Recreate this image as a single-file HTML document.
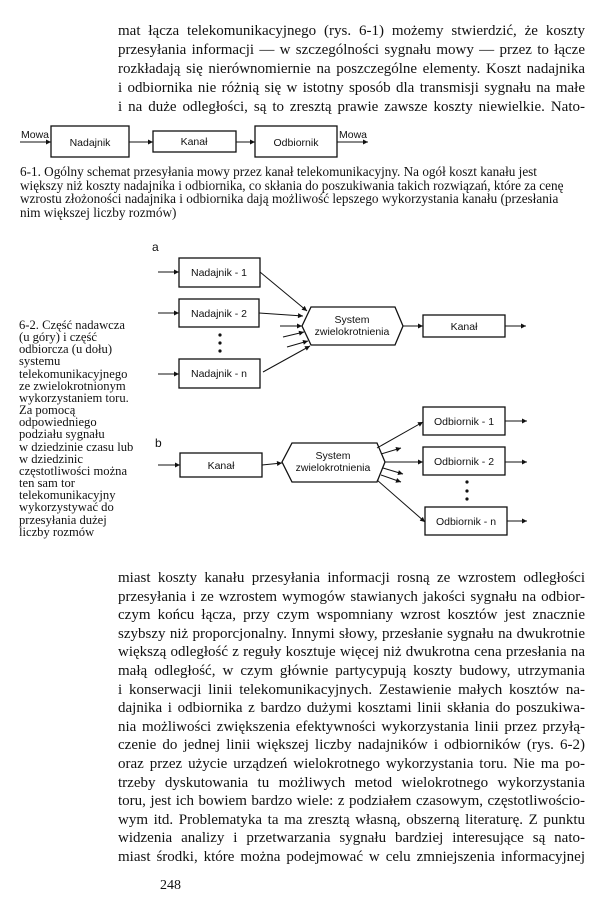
<!DOCTYPE html>
<html><head><meta charset="utf-8"><style>
body{margin:0;width:600px;height:916px;background:#fff;position:relative;overflow:hidden;font-family:"Liberation Serif",serif;color:#111}
.t{position:absolute;left:118px;width:467px;font-size:15px;line-height:19px}
.t div{text-align:justify;text-align-last:justify;white-space:nowrap}
.b{position:absolute;left:118px;width:467px;font-size:15px;line-height:18.6px}
.b div{text-align:justify;text-align-last:justify;white-space:nowrap}
.c1{position:absolute;left:20px;top:165px;font-size:13.2px;line-height:13.6px;white-space:nowrap}
.c2{position:absolute;left:19px;top:319px;font-size:12.6px;line-height:12.15px;white-space:nowrap}
svg{position:absolute;left:0;top:0}
svg text{font-family:"Liberation Sans",sans-serif;font-size:10.5px;fill:#111}
</style></head><body>
<div class="t" style="top:22px">
<div>mat łącza telekomunikacyjnego (rys. 6-1) możemy stwierdzić, że koszty</div>
<div>przesyłania informacji — w szczególności sygnału mowy — przez to łącze</div>
<div>rozkładają się nierównomiernie na poszczególne elementy. Koszt nadajnika</div>
<div>i odbiornika nie różnią się w istotny sposób dla transmisji sygnału na małe</div>
<div>i na duże odległości, są to zresztą prawie zawsze koszty niewielkie. Nato-</div>
</div>
<div class="c1">6-1. Ogólny schemat przesyłania mowy przez kanał telekomunikacyjny. Na ogół koszt kanału jest<br>większy niż koszty nadajnika i odbiornika, co skłania do poszukiwania takich rozwiązań, które za cenę<br>wzrostu złożoności nadajnika i odbiornika dają możliwość lepszego wykorzystania kanału (przesłania<br>nim większej liczby rozmów)</div>
<div class="c2">6-2. Część nadawcza<br>(u góry) i część<br>odbiorcza (u dołu)<br>systemu<br>telekomunikacyjnego<br>ze zwielokrotnionym<br>wykorzystaniem toru.<br>Za pomocą<br>odpowiedniego<br>podziału sygnału<br>w dziedzinie czasu lub<br>w dziedzinic<br>częstotliwości można<br>ten sam tor<br>telekomunikacyjny<br>wykorzystywać do<br>przesyłania dużej<br>liczby rozmów</div>
<div class="b" style="top:569px">
<div>miast koszty kanału przesyłania informacji rosną ze wzrostem odległości</div>
<div>przesyłania i ze wzrostem wymogów stawianych jakości sygnału na odbior-</div>
<div>czym końcu łącza, przy czym wspomniany wzrost kosztów jest znacznie</div>
<div>szybszy niż proporcjonalny. Innymi słowy, przesłanie sygnału na dwukrotnie</div>
<div>większą odległość z reguły kosztuje więcej niż dwukrotna cena przesłania na</div>
<div>małą odległość, w czym głównie partycypują koszty budowy, utrzymania</div>
<div>i konserwacji linii telekomunikacyjnych. Zestawienie małych kosztów na-</div>
<div>dajnika i odbiornika z bardzo dużymi kosztami linii skłania do poszukiwa-</div>
<div>nia możliwości zwiększenia efektywności wykorzystania linii przez przyłą-</div>
<div>czenie do jednej linii większej liczby nadajników i odbiorników (rys. 6-2)</div>
<div>oraz przez użycie urządzeń wielokrotnego wykorzystania toru. Nie ma po-</div>
<div>trzeby dyskutowania tu możliwych metod wielokrotnego wykorzystania</div>
<div>toru, jest ich bowiem bardzo wiele: z podziałem czasowym, częstotliwościo-</div>
<div>wym itd. Problematyka ta ma zresztą własną, obszerną literaturę. Z punktu</div>
<div>widzenia analizy i przetwarzania sygnału bardziej interesujące są nato-</div>
<div>miast środki, które można podejmować w celu zmniejszenia informacyjnej</div>
</div>
<div style="position:absolute;left:160px;top:878px;font-size:14px">248</div>

<svg width="600" height="916" viewBox="0 0 600 916">
<defs><marker id="a" viewBox="0 0 10 10" refX="10" refY="5" markerWidth="7" markerHeight="5" orient="auto" markerUnits="userSpaceOnUse"><path d="M0,0L10,5L0,10z" fill="#111"/></marker></defs>
<g stroke="#111" stroke-width="1.3" fill="none">
<rect x="51" y="126" width="78" height="31"/>
<rect x="153" y="131" width="83" height="21"/>
<rect x="255" y="126" width="82" height="31"/>
<g marker-end="url(#a)" stroke-width="1">
<line x1="20" y1="142" x2="51" y2="142"/>
<line x1="129" y1="142" x2="153" y2="142"/>
<line x1="236" y1="142" x2="255" y2="142"/>
<line x1="337" y1="142" x2="368" y2="142"/>
</g>
<rect x="179" y="258" width="81" height="29"/>
<rect x="179" y="299" width="80" height="28"/>
<rect x="179" y="359" width="81" height="29"/>
<polygon points="302,326 311,307 395,307 403,326 395,345 311,345"/>
<rect x="423" y="315" width="82" height="22"/>
<g marker-end="url(#a)" stroke-width="1">
<line x1="158" y1="272" x2="179" y2="272"/>
<line x1="158" y1="313" x2="179" y2="313"/>
<line x1="158" y1="374" x2="179" y2="374"/>
<line x1="260" y1="272" x2="307" y2="311"/>
<line x1="259" y1="313" x2="303" y2="316"/>
<line x1="280" y1="326" x2="302" y2="326"/>
<line x1="283" y1="337" x2="304" y2="332"/>
<line x1="287" y1="347" x2="308" y2="341"/>
<line x1="263" y1="372" x2="310" y2="346"/>
<line x1="403" y1="326" x2="423" y2="326"/>
<line x1="505" y1="326" x2="526" y2="326"/>
</g>
<rect x="180" y="453" width="82" height="24"/>
<polygon points="282,462 292,443 377,443 385,462 377,482 292,482"/>
<rect x="423" y="407" width="82" height="28"/>
<rect x="423" y="447" width="82" height="28"/>
<rect x="425" y="507" width="82" height="28"/>
<g marker-end="url(#a)" stroke-width="1">
<line x1="158" y1="465" x2="180" y2="465"/>
<line x1="262" y1="465" x2="282" y2="463"/>
<line x1="377" y1="448" x2="423" y2="422"/>
<line x1="381" y1="454" x2="401" y2="448"/>
<line x1="385" y1="462" x2="423" y2="462"/>
<line x1="383" y1="468" x2="403" y2="474"/>
<line x1="381" y1="475" x2="401" y2="482"/>
<line x1="377" y1="480" x2="425" y2="522"/>
<line x1="505" y1="421" x2="527" y2="421"/>
<line x1="505" y1="462" x2="527" y2="462"/>
<line x1="507" y1="521" x2="527" y2="521"/>
</g>
</g>
<g fill="#111">
<circle cx="220" cy="335" r="1.6"/><circle cx="220" cy="343" r="1.6"/><circle cx="220" cy="351" r="1.6"/>
<circle cx="467" cy="482" r="1.6"/><circle cx="467" cy="491" r="1.6"/><circle cx="467" cy="499" r="1.6"/>
</g>
<text x="21" y="138">Mowa</text>
<text x="339" y="138">Mowa</text>
<text x="90" y="146" text-anchor="middle">Nadajnik</text>
<text x="194" y="145" text-anchor="middle">Kanał</text>
<text x="296" y="146" text-anchor="middle">Odbiornik</text>
<text x="152" y="251" style="font-size:12px">a</text>
<text x="219" y="276" text-anchor="middle">Nadajnik - 1</text>
<text x="219" y="317" text-anchor="middle">Nadajnik - 2</text>
<text x="219" y="377" text-anchor="middle">Nadajnik - n</text>
<text x="352" y="323" text-anchor="middle">System</text>
<text x="352" y="335" text-anchor="middle">zwielokrotnienia</text>
<text x="464" y="330" text-anchor="middle">Kanał</text>
<text x="155" y="447" style="font-size:12px">b</text>
<text x="221" y="469" text-anchor="middle">Kanał</text>
<text x="333" y="459" text-anchor="middle">System</text>
<text x="333" y="471" text-anchor="middle">zwielokrotnienia</text>
<text x="464" y="425" text-anchor="middle">Odbiornik - 1</text>
<text x="464" y="465" text-anchor="middle">Odbiornik - 2</text>
<text x="466" y="525" text-anchor="middle">Odbiornik - n</text>
</svg>
</body></html>
